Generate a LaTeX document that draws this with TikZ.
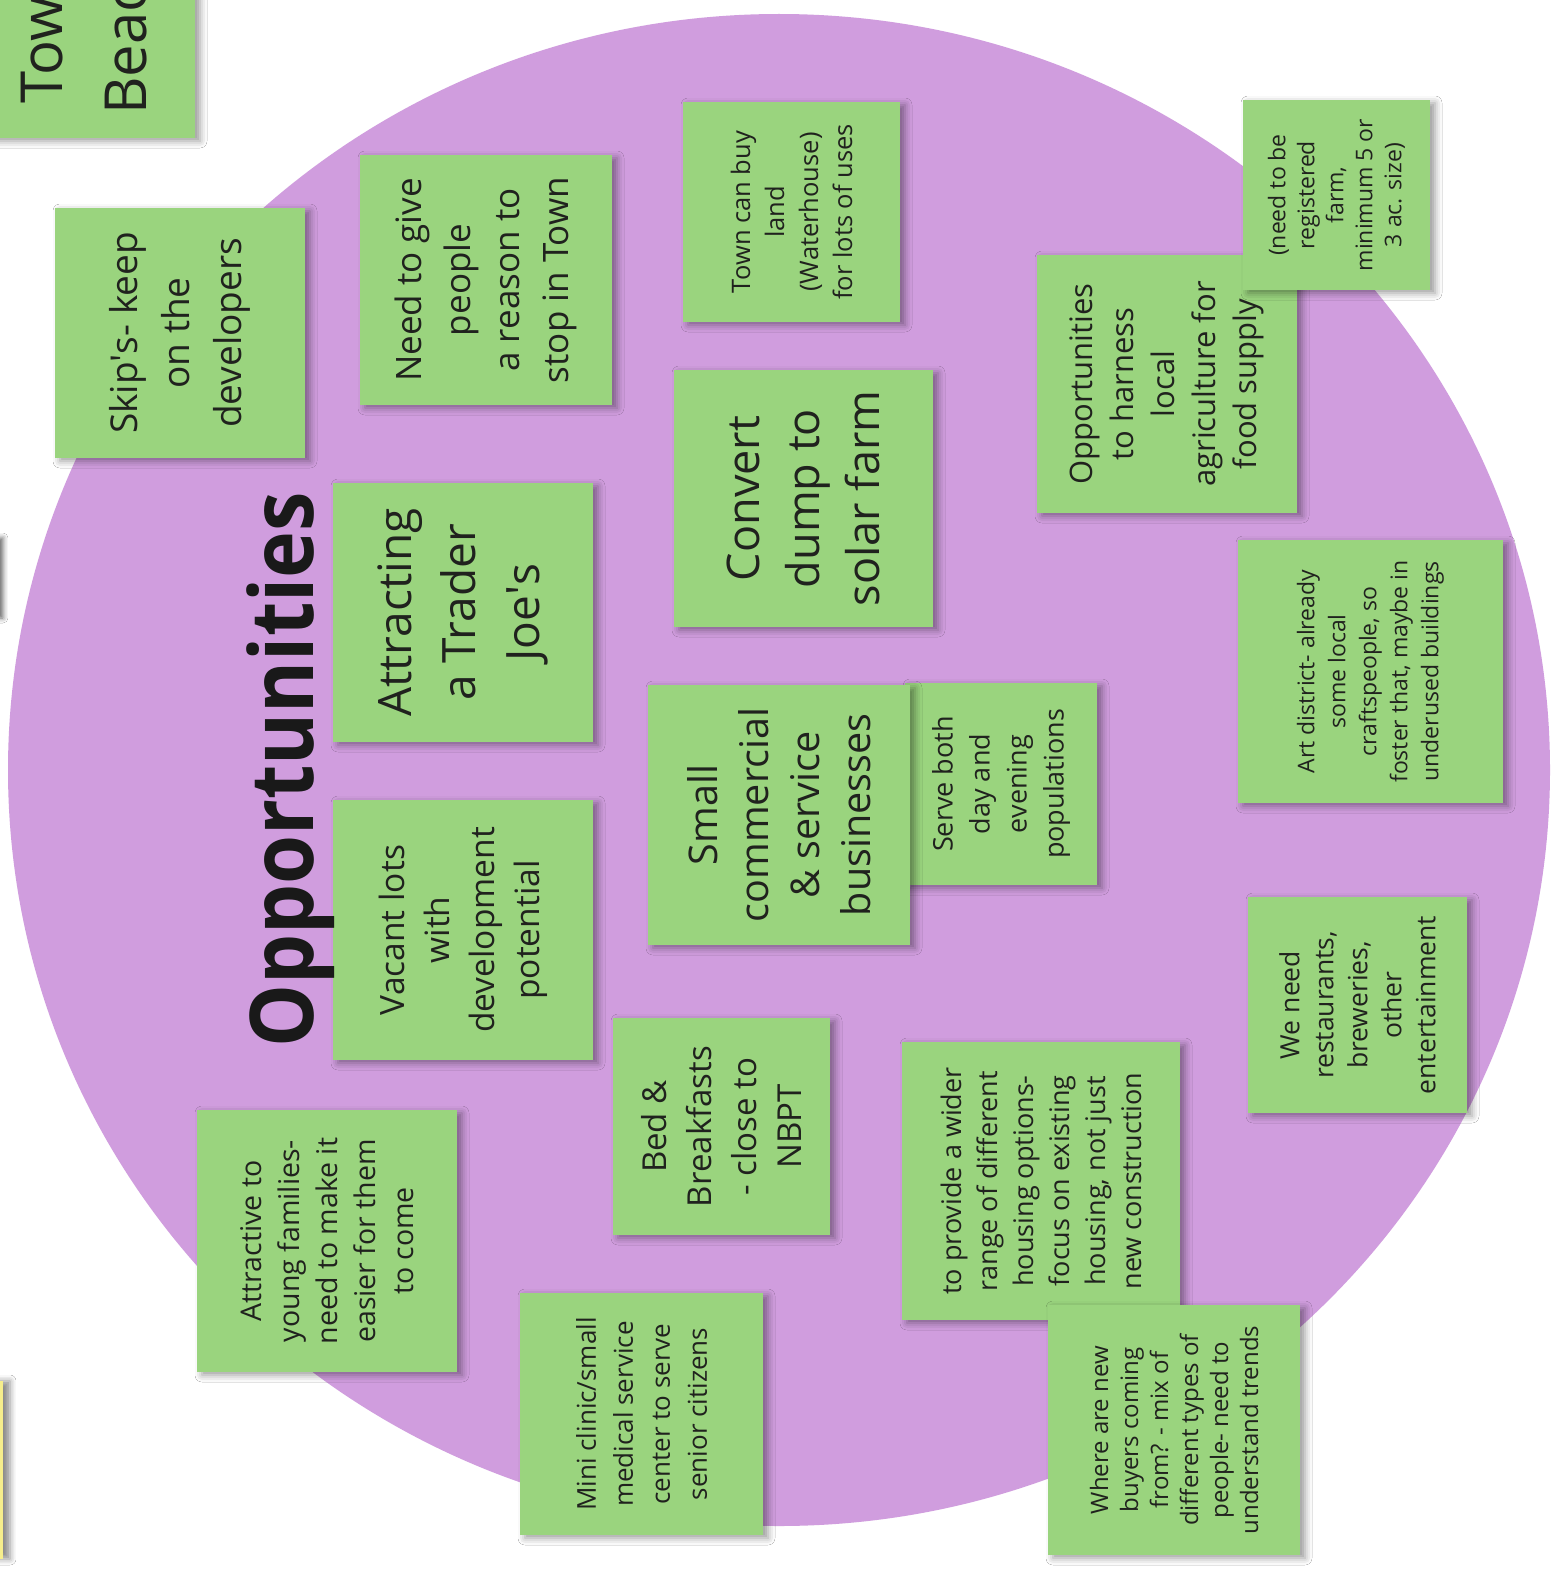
\documentclass[tikz,border=0pt]{standalone}
\usepackage{fontspec}
\setmainfont{Open Sans}
\usetikzlibrary{shadows.blur}
\definecolor{circ}{RGB}{208,157,222}
\definecolor{sticky}{RGB}{154,212,126}
\definecolor{yellownote}{RGB}{246,238,140}
\definecolor{ink}{RGB}{32,34,30}
\tikzset{
  stickynote/.style={fill=sticky, inner sep=0pt, draw=none,
    blur shadow={shadow xshift=5pt, shadow yshift=-3pt, shadow blur radius=7pt, shadow opacity=40}},
  notetext/.style={rotate=90, align=center, text=ink, inner sep=0pt},
  titletext/.style={rotate=90, text=black!90, inner sep=0pt, anchor=base},
}
\newcommand{\sticky}[8]{%
  \pgfmathsetmacro{\stW}{#4-#2}\pgfmathsetmacro{\stH}{#5-#3}%
  \pgfmathsetmacro{\stX}{(#2+#4)/2}\pgfmathsetmacro{\stY}{(#3+#5)/2}%
  \node[stickynote, minimum width=\stW pt, minimum height=\stH pt] (#1) at (\stX,\stY) {};
  \node[notetext, font=\fontsize{#6}{#7}\selectfont] (#1-t) at (#1.center) {#8};}
\newcommand{\apos}{\textquotesingle}
\begin{document}
\begin{tikzpicture}[x=1pt,y=-1pt]
\useasboundingbox (0,0) rectangle (1563,1573);
\clip (0,0) rectangle (1563,1573);
\fill[white] (0,0) rectangle (1563,1573);
% big circle
\fill[circ] (779,770) ellipse [x radius=771pt, y radius=756pt];
% partial notes at the left edge
\node[fill=white, inner sep=0pt, minimum width=200pt, minimum height=80pt,
  blur shadow={shadow xshift=5pt, shadow yshift=0pt, shadow blur radius=5pt, shadow opacity=60}] (offA) at (-102,578) {};
\node[fill=yellownote, inner sep=0pt, minimum width=200pt, minimum height=178pt,
  blur shadow={shadow xshift=7pt, shadow yshift=0pt, shadow blur radius=6pt, shadow opacity=45}] (offB) at (-97,1470) {};
% top-left partial note
\node[stickynote, minimum width=260pt, minimum height=240pt] (town) at (65,18) {};
\node[notetext, font=\fontsize{58}{84}\selectfont] (town-t) at (84,32) {Town\\Beach};
% notes
\sticky{skip}{55}{208}{305}{458}{37}{52}{Skip\apos s- keep\\on the\\developers}
\sticky{need}{360}{155}{612}{405}{35}{49}{Need to give\\people\\a reason to\\stop in Town}
\sticky{buy}{683}{102}{900}{322}{25.5}{34}{Town can buy\\land\\(Waterhouse)\\for lots of uses}
\sticky{harness}{1037}{255}{1297}{513}{31}{41}{Opportunities\\to harness\\local\\agriculture for\\food supply}
\sticky{farm}{1243}{100}{1430}{290}{23}{29}{(need to be\\registered\\farm,\\minimum 5 or\\3 ac. size)}
\sticky{solar}{674}{370}{933}{627}{45}{60}{Convert\\dump to\\solar farm}
\sticky{trader}{333}{483}{593}{742}{46}{64}{Attracting\\a Trader\\Joe\apos s}
\sticky{vacant}{333}{800}{593}{1060}{33.5}{45}{Vacant lots\\with\\development\\potential}
\sticky{serve}{905}{683}{1097}{885}{27}{37}{Serve both\\day and\\evening\\populations}
\sticky{small}{648}{685}{910}{945}{39.5}{51}{Small\\commercial\\\& service\\businesses}
\sticky{art}{1238}{540}{1503}{803}{23}{31}{Art district- already\\some local\\craftspeople, so\\foster that, maybe in\\underused buildings}
\sticky{restaurants}{1248}{897}{1467}{1113}{26.5}{34}{We need\\restaurants,\\breweries,\\other\\entertainment}
\sticky{bnb}{613}{1018}{830}{1235}{33}{45}{Bed \&\\Breakfasts\\- close to\\NBPT}
\sticky{housing}{902}{1042}{1180}{1320}{27}{36}{to provide a wider\\range of different\\housing options-\\focus on existing\\housing, not just\\new construction}
\sticky{buyers}{1048}{1305}{1300}{1555}{24}{30}{Where are new\\buyers coming\\from? - mix of\\different types of\\people- need to\\understand trends}
\sticky{families}{197}{1110}{457}{1372}{28.5}{38}{Attractive to\\young families-\\need to make it\\easier for them\\to come}
\sticky{clinic}{520}{1293}{763}{1535}{26}{37}{Mini clinic/small\\medical service\\center to serve\\senior citizens}
% title
\node[titletext, font=\fontsize{88}{100}\selectfont\bfseries] (title) at (313,770) {\scalebox{0.9}[1]{Opportunities}};
\end{tikzpicture}
\end{document}
